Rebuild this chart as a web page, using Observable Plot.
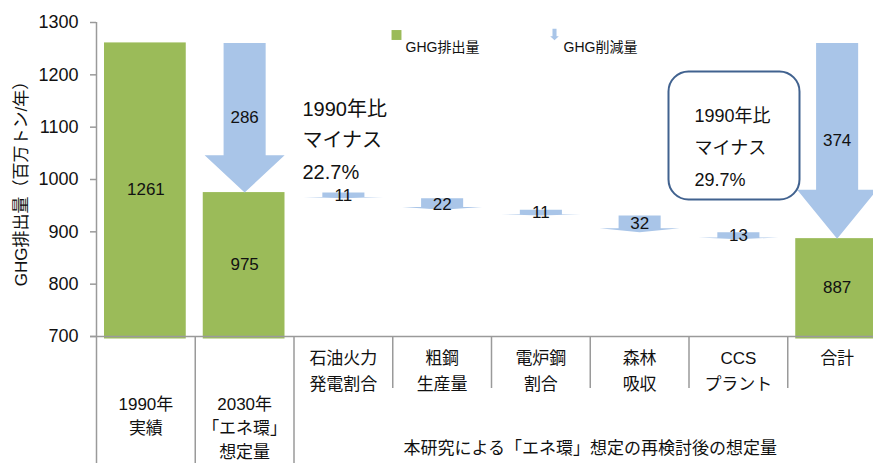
<!DOCTYPE html>
<html><head><meta charset="utf-8">
<script src="https://cdn.jsdelivr.net/npm/d3@7"></script>
<script src="https://cdn.jsdelivr.net/npm/@observablehq/plot@0.6"></script>
<style>
html,body{margin:0;padding:0;background:#fff;overflow:hidden;}
#chart svg{overflow:hidden;}
</style></head><body><div id="chart"></div>
<script>
// ---- data ----
const categories = ["1990年\n実績", "2030年\n「エネ環」\n想定量", "石油火力\n発電割合", "粗鋼\n生産量", "電炉鋼\n割合", "森林\n吸収", "CCS\nプラント", "合計"];
const emissionIndex = [0, 1, 7];
const emissionValues = [1261, 975, 887];
const reductionValues = [286, 11, 22, 11, 32, 13, 374]; // categories 1..7
const yTicks = [700, 800, 900, 1000, 1100, 1200, 1300];
const groupStart = 2;
const groupLabel = "本研究による「エネ環」想定の再検討後の想定量";
const noteLeft = "1990年比\nマイナス\n22.7%";
const noteBox = "1990年比\nマイナス\n29.7%";
const legendLabels = ["GHG排出量", "GHG削減量"];
const yLabel = "GHG排出量（百万トン/年）";

// ---- styles ----
const GREEN = "#9BBB59", BLUE = "#A9C5E8", GRID = "#9a9a9a";
const FONT = "'Liberation Sans', Arial, 'Noto Sans CJK JP', sans-serif";
const SHAFT = 0.213, HEAD = 0.405, HEADLEN = 0.25;

// ---- derived ----
const bars = emissionIndex.map((i, k) => ({i, value: emissionValues[k]}));
const totalIndex = categories.length - 1;
let level = emissionValues[0];
const arrows = reductionValues.map((v, k) => {
  const i = k + 1;
  const isTotal = i === totalIndex;
  const top = isTotal ? emissionValues[0] : level;
  const bottom = top - v;
  if (!isTotal) level = bottom;
  return {i, top, bottom, value: v};
});
const arrowPts = arrows.flatMap(a => {
  const hb = a.bottom + (a.top - a.bottom) * HEADLEN;
  return [[a.i - SHAFT, a.top], [a.i + SHAFT, a.top], [a.i + SHAFT, hb], [a.i + HEAD, hb],
          [a.i, a.bottom], [a.i - HEAD, hb], [a.i - SHAFT, hb]].map(([x, y]) => ({id: a.i, x, y}));
});
const idx = categories.map((_, i) => i);
const fullSeps = idx.slice(1, groupStart + 1).map(i => i - 0.5);
const shortSeps = idx.slice(groupStart + 1).map(i => i - 0.5).concat([totalIndex + 0.5]);
const groupCenter = d3.mean(idx.slice(groupStart));
const arrowSymbol = {draw(ctx, size) {
  const s = Math.sqrt(size) / 2;
  ctx.moveTo(-0.35 * s, -s); ctx.lineTo(0.35 * s, -s); ctx.lineTo(0.35 * s, 0.3 * s);
  ctx.lineTo(0.75 * s, 0.3 * s); ctx.lineTo(0, s); ctx.lineTo(-0.75 * s, 0.3 * s);
  ctx.lineTo(-0.35 * s, 0.3 * s); ctx.closePath();
}};

const chart = Plot.plot({
  width: 873, height: 463,
  marginLeft: 96, marginRight: 0, marginTop: 22, marginBottom: 127,
  style: {fontFamily: FONT, color: "#111", background: "#fff"},
  x: {type: "linear", domain: [-0.5, categories.length - 0.5], range: [96, 886]},
  y: {domain: [yTicks[0], yTicks[yTicks.length - 1]]},
  marks: [
    Plot.rect(bars, {x1: d => d.i - 0.5, x2: d => d.i + 0.5, y1: yTicks[0], y2: "value", insetLeft: 8, insetRight: 9, insetBottom: -2.5, fill: GREEN}),
    Plot.line(arrowPts, {x: "x", y: "y", z: "id", fill: BLUE, stroke: "none"}),
    Plot.text(bars, {x: "i", y: d => (d.value + yTicks[0]) / 2, text: d => String(d.value), fontSize: 17, fill: "#111"}),
    Plot.text(arrows, {x: "i", y: d => (d.top + d.bottom) / 2, text: d => String(d.value), fontSize: 17, fill: "#111"}),
    // axes & separators
    Plot.ruleX([-0.5], {insetBottom: -127, stroke: GRID, strokeWidth: 1.5}),
    Plot.ruleX(fullSeps, {insetTop: 314, insetBottom: -127, stroke: GRID, strokeWidth: 1.5}),
    Plot.ruleX(shortSeps, {insetTop: 314, insetBottom: -52, stroke: GRID, strokeWidth: 1.5}),
    Plot.ruleY([yTicks[0]], {insetLeft: -6, stroke: GRID, strokeWidth: 1.5}),
    Plot.axisY({ticks: yTicks, tickSize: 6, tickPadding: 12, stroke: GRID, strokeWidth: 1.5, fill: "#111", fontSize: 18, label: null, tickFormat: d => String(d)}),
    Plot.axisX(idx.slice(0, groupStart), {tickFormat: i => categories[i], tickSize: 0, tickPadding: 57, fontSize: 17, lineHeight: 1.4, label: null, fill: "#111"}),
    Plot.axisX(idx.slice(groupStart), {tickFormat: i => categories[i], tickSize: 0, tickPadding: 9, fontSize: 17, lineHeight: 1.53, label: null, fill: "#111"}),
    Plot.text([groupLabel], {x: groupCenter, frameAnchor: "bottom", dy: 117, fontSize: 17, fill: "#111"}),
    Plot.text([yLabel], {frameAnchor: "left", rotate: -90, dx: -75, textAnchor: "middle", fontSize: 17, fill: "#111"}),
    // annotations
    Plot.text([noteLeft], {frameAnchor: "top-left", dx: 206, dy: 71, lineAnchor: "top", textAnchor: "start", fontSize: 20, lineHeight: 1.57, fill: "#111"}),
    Plot.frame({insetLeft: 572, insetRight: 74, insetTop: 49, insetBottom: 137, rx: 20, stroke: "#41628F", strokeWidth: 2}),
    Plot.text([noteBox], {frameAnchor: "top-left", dx: 598, dy: 77, lineAnchor: "top", textAnchor: "start", fontSize: 18, lineHeight: 1.78, fill: "#111"}),
    // legend
    Plot.dot([legendLabels[0]], {frameAnchor: "top-left", dx: 300, dy: 12.5, symbol: "square", r: 5.6, fill: GREEN, stroke: "none"}),
    Plot.text([legendLabels[0]], {frameAnchor: "top-left", dx: 309, dy: 20, textAnchor: "start", fontSize: 14, fill: "#111"}),
    Plot.dot([legendLabels[1]], {frameAnchor: "top-left", dx: 458, dy: 12, symbol: arrowSymbol, r: 6.5, fill: BLUE, stroke: "none"}),
    Plot.text([legendLabels[1]], {frameAnchor: "top-left", dx: 467, dy: 20, textAnchor: "start", fontSize: 14, fill: "#111"})
  ]
});
document.getElementById("chart").appendChild(chart);
</script></body></html>
